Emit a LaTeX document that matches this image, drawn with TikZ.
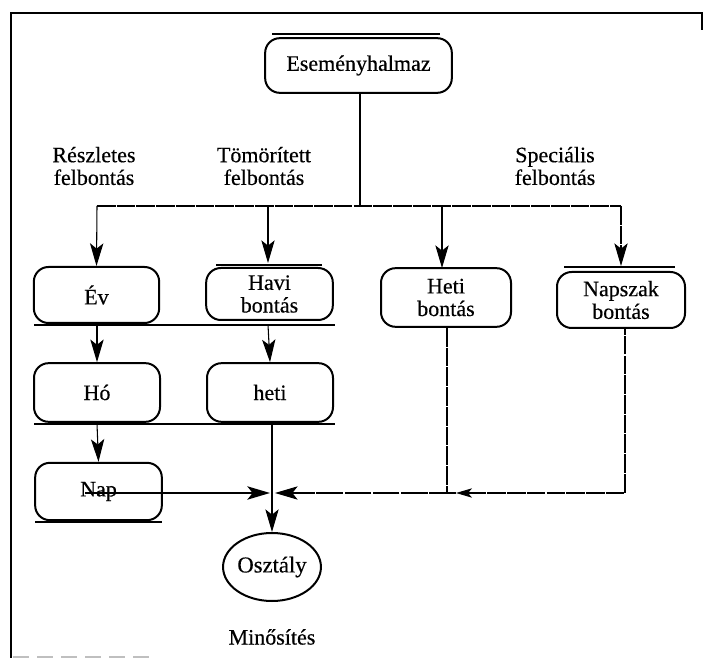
\documentclass[tikz,border=0pt]{standalone}
\usepackage{fontspec}
\setmainfont[FakeBold=0.4]{Liberation Serif}
\usetikzlibrary{arrows.meta,shapes.geometric}
\begin{document}
\begin{tikzpicture}[x=0.75pt,y=-0.75pt,
  box/.style={draw,line width=1.5pt,rounded corners=11pt,align=center,inner sep=0pt,font=\fontsize{16.5}{17}\selectfont},
  lab/.style={align=center,font=\fontsize{16.5}{17}\selectfont},
  conn/.style={line width=0.8pt},
  brk/.style={conn,dash pattern=on 14pt off 0.8pt},
  arr/.style={-{Stealth[length=17pt,width=10pt,inset=4pt]}},
  uline/.style={line width=1.8pt},
  frame/.style={line width=1.5pt},
]
\useasboundingbox (0,0) rectangle (704,659);
% frame
\draw[frame] (702,30) -- (702,13) -- (11,13) -- (11,658);
\draw[gray!50,line width=1pt,dash pattern=on 12pt off 6pt] (13,657) -- (150,657);

% nodes
\node[box,minimum width=140pt,minimum height=41pt] (esem) at (358.5,65.5) {Eseményhalmaz};
\draw[uline] (272,34) -- (440,34);

\node[lab] (l1) at (94,166) {Részletes\\felbontás};
\node[lab] (l2) at (264,166) {Tömörített\\felbontás};
\node[lab] (l3) at (555,166) {Speciális\\felbontás};

\node[box,minimum width=94pt,minimum height=42pt] (ev) at (96.5,295) {Év};
\node[box,minimum width=95pt,minimum height=39pt] (havi) at (269.5,294) {Havi\\bontás};
\draw[uline] (216,265) -- (322,265);
\node[box,minimum width=97.5pt,minimum height=44pt] (heti) at (446,297.5) {Heti\\bontás};
\node[box,minimum width=96pt,minimum height=42pt] (napszak) at (621,300) {Napszak\\bontás};
\draw[uline] (564,267) -- (675,267);
\draw[uline] (34,325) -- (335,325);

\node[box,minimum width=94.5pt,minimum height=44pt] (ho) at (97,392.5) {Hó};
\node[box,minimum width=94.5pt,minimum height=44pt] (hetib) at (270,392.5) {heti};
\draw[uline] (34,424) -- (335,424);

\node[box,minimum width=95pt,minimum height=43pt] (nap) at (98.5,491.5) {Nap};
\draw[uline] (35,522) -- (162,522);

\node[draw,ellipse,line width=1.5pt,inner sep=0pt,minimum width=59pt,minimum height=51pt,font=\fontsize{17}{17}\selectfont] (oszt) at (272,567) {Osztály};
\node[lab] (min) at (272,637) {Minősítés};

% coordinates
\coordinate (hl) at (97,206);
\coordinate (hr) at (621,206);
\coordinate (j) at (272,493);
\coordinate (jl) at (270,493);
\coordinate (jr) at (275,493);
\coordinate (m1) at (456,493);
\coordinate (napstart) at (85,493);

% connectors
\draw[conn] (esem.south -| 360,0) -- (360,206);
\draw[brk] (hl) -- (hr);
\draw[conn,arr] (hl) -- (ev.north);
\draw[conn,arr] (268,206) -- (268,263);
\draw[conn,arr] (442,206) -- (442,268);
\draw[brk,arr] (hr) -- (621,266);

\draw[conn,arr] (97,325) -- (ho.north);
\draw[conn,arr] (268,325) -- (hetib.north);
\draw[conn,arr] (97,424) -- (nap.north);

\draw[line width=1.5pt,arr] (napstart) -- (jl);
\draw[conn] (hetib.south -| j) -- (j);
\draw[conn,arr] (j) -- (oszt.north);
\draw[brk] (447,328) -- (447,493);
\draw[brk,{Stealth[length=12pt,width=7pt,inset=3pt]}-] (m1) -- (625,493) -- (625,328);
\draw[conn,dash pattern=on 20pt off 1.2pt,arr] (m1) -- (jr);
\end{tikzpicture}
\end{document}
